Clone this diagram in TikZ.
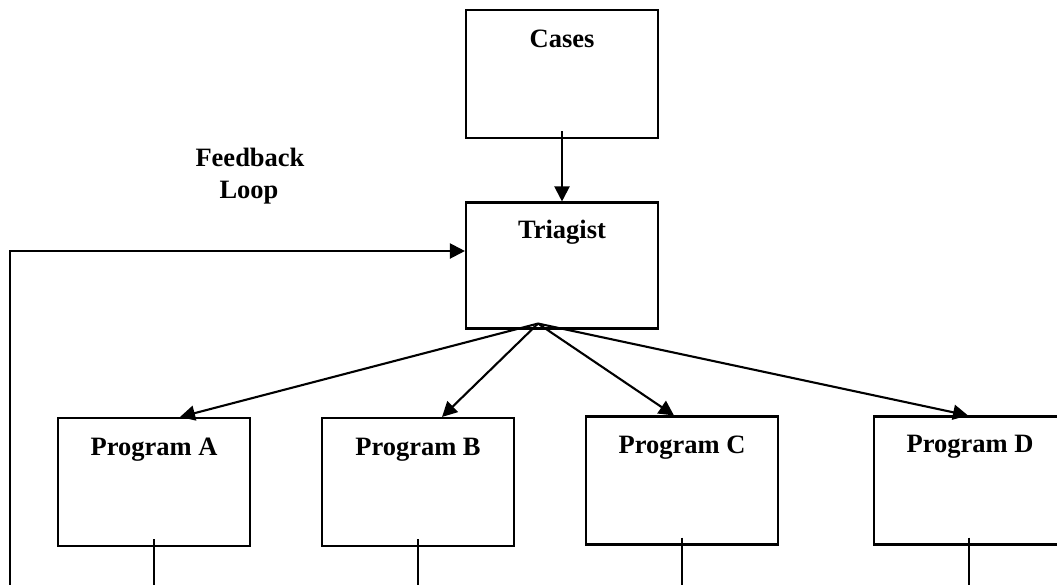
\documentclass[tikz,border=0pt]{standalone}
\usepackage{fontspec}
\setmainfont{Liberation Serif}
\usetikzlibrary{arrows.meta,calc}
\begin{document}
\begin{tikzpicture}[x=1pt,y=-1pt,
  box/.style={draw,line width=2.1pt,minimum width=192pt,minimum height=128pt,inner sep=0pt},
  lbl/.style={anchor=base,font=\fontsize{26.5}{32}\selectfont\bfseries,inner sep=0pt},
  conn/.style={line width=2.1pt},
  arr/.style={conn,-{Triangle[length=15pt,width=15pt]}}]
\useasboundingbox (0,0) rectangle (1057,584);
% boxes
\node[box] (cases) at (562,74) {};
\node[box,minimum height=126pt] (tri) at (562,265.5) {};
\node[box] (A) at (154,482) {};
\node[box] (B) at (418,482) {};
\node[box] (C) at (682,480.5) {};
\node[box] (D) at (970,480.5) {};
% labels
\node[lbl] (tcases) at (562,47) {Cases};
\node[lbl] (ttri) at (562,238) {Triagist};
\node[lbl] (tA) at (154,455) {Program A};
\node[lbl] (tB) at (418,455) {Program B};
\node[lbl] (tC) at (682,453) {Program C};
\node[lbl] (tD) at (970,452) {Program D};
\node[lbl] (fb1) at (250,166) {Feedback};
\node[lbl] (fb2) at (249,198) {Loop};
% cases -> triagist
\draw[arr] ($(cases.south)+(0,-8)$) -- (tri.north);
% fan
\coordinate (fan) at ($(tri.south)+(-24,-6)$);
\draw[arr] (fan) -- ($(A.north)+(26,0)$);
\draw[arr] (fan) -- ($(B.north)+(24,0)$);
\draw[arr] (fan) -- ($(C.north)+(-8,0)$);
\draw[arr] (fan) -- ($(D.north)+(-2,0)$);
% lines down from programs
\coordinate (Aend) at (154,586);
\coordinate (Bend) at (418,586);
\coordinate (Cend) at (682,586);
\coordinate (Dend) at (969,586);
\draw[conn] ($(A.south)+(0,-8)$) -- (Aend);
\draw[conn] ($(B.south)+(0,-8)$) -- (Bend);
\draw[conn] ($(C.south)+(0,-8)$) -- (Cend);
\draw[conn] ($(D.south)+(-1,-8)$) -- (Dend);
% feedback loop
\coordinate (fbstart) at (10,586);
\coordinate (fbturn) at (10,251);
\draw[arr] (fbstart) -- (fbturn) -- (fbturn -| tri.west);
\end{tikzpicture}
\end{document}
